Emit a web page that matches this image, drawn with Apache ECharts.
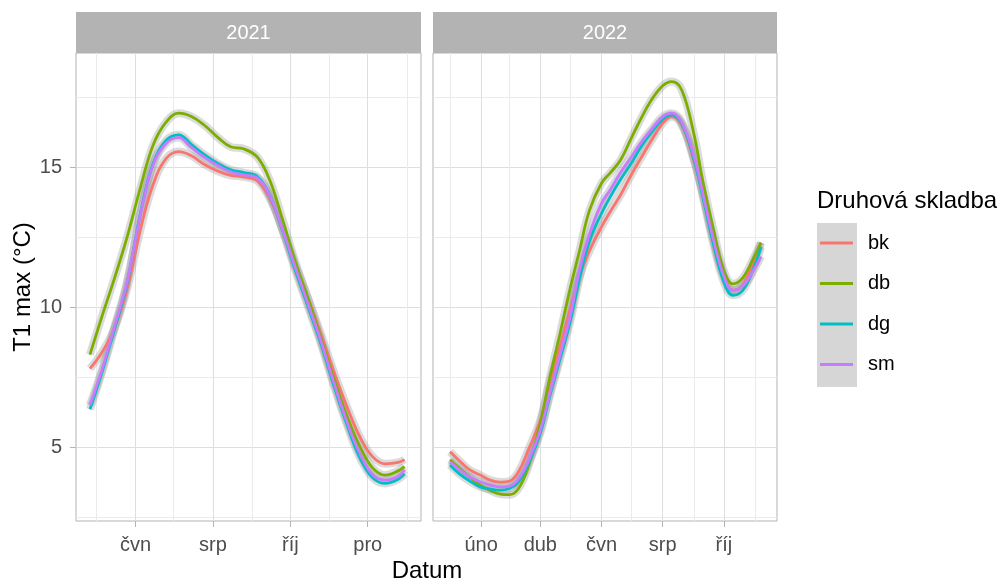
<!DOCTYPE html>
<html>
<head>
    <meta charset="utf-8">
    <title>T1 max</title>
    <script src="https://cdn.jsdelivr.net/npm/echarts@6/dist/echarts.min.js"></script>
    <style>
        html, body { margin: 0; background: #fff; }
        #chart { width: 997px; height: 581px; }
    </style>
</head>
<body>
    <div id="chart"></div>
    <script type="text/javascript">
        var panels = ['2021', '2022'];
        var groups = ['bk', 'db', 'dg', 'sm'];
        var colors = ['#F8766D', '#7CAE00', '#00BFC4', '#C77CFF'];

        var dates21 = ['2021-04-26', '2021-05-05', '2021-05-15', '2021-05-25', '2021-06-05', '2021-06-15',
            '2021-06-25', '2021-07-05', '2021-07-15', '2021-07-25', '2021-08-05', '2021-08-15', '2021-08-25',
            '2021-09-05', '2021-09-15', '2021-09-25', '2021-10-05', '2021-10-15', '2021-10-25', '2021-11-05',
            '2021-11-15', '2021-11-25', '2021-12-05', '2021-12-15', '2021-12-25', '2021-12-30'];
        var bk21 = [7.8, 8.35, 9.2, 10.6, 12.8, 14.4, 15.3, 15.55, 15.4, 15.1, 14.85, 14.7, 14.65,
            14.5, 13.85, 12.75, 11.5, 10.3, 9.05, 7.6, 6.4, 5.35, 4.65, 4.4, 4.45, 4.55];
        var db21 = [8.3, 9.6, 10.98, 12.45, 14.3, 15.8, 16.6, 16.92, 16.8, 16.5, 16.05, 15.72, 15.65,
            15.35, 14.5, 13.1, 11.6, 10.3, 8.9, 7.35, 6.05, 5.0, 4.25, 4.0, 4.15, 4.3];
        var dg21 = [6.35, 7.6, 9.15, 10.8, 13.4, 15.15, 15.95, 16.15, 15.8, 15.45, 15.12, 14.9, 14.8,
            14.65, 13.95, 12.7, 11.3, 10.0, 8.7, 7.1, 5.75, 4.6, 3.9, 3.7, 3.85, 4.05];
        var sm21 = [6.5, 7.7, 9.25, 10.85, 13.35, 15.1, 15.85, 16.05, 15.7, 15.35, 15.05, 14.82, 14.72,
            14.6, 13.95, 12.75, 11.4, 10.1, 8.8, 7.2, 5.85, 4.75, 4.0, 3.82, 3.95, 4.18];

        var dates22 = ['2022-01-01', '2022-01-10', '2022-01-20', '2022-01-31', '2022-02-10', '2022-02-20',
            '2022-03-01', '2022-03-10', '2022-03-20', '2022-04-01', '2022-04-10', '2022-04-20', '2022-05-01',
            '2022-05-10', '2022-05-20', '2022-06-01', '2022-06-10', '2022-06-20', '2022-07-01', '2022-07-10',
            '2022-07-20', '2022-08-01', '2022-08-10', '2022-08-20', '2022-09-01', '2022-09-10', '2022-09-20',
            '2022-10-01', '2022-10-10', '2022-10-20', '2022-11-01', '2022-11-07'];
        var bk22 = [4.83, 4.52, 4.2, 4.0, 3.82, 3.75, 3.78, 4.1, 4.9, 5.96, 7.25, 8.5, 9.95, 11.1, 12.0,
            12.86, 13.42, 14.0, 14.74, 15.3, 15.9, 16.56, 16.8, 16.5, 15.25, 14.06, 12.5, 11.1, 10.6, 10.8, 11.7, 12.3];
        var db22 = [4.55, 4.25, 3.95, 3.64, 3.45, 3.32, 3.3, 3.5, 4.3, 5.84, 7.4, 8.95, 10.7, 12.0, 13.45,
            14.42, 14.8, 15.25, 16.05, 16.7, 17.35, 17.9, 18.05, 17.75, 16.2, 14.5, 12.86, 11.3, 10.83, 11.05, 11.85, 12.3];
        var dg22 = [4.36, 4.05, 3.8, 3.58, 3.5, 3.46, 3.52, 3.75, 4.4, 5.5, 6.75, 8.05, 9.5, 11.0, 12.35,
            13.34, 13.95, 14.55, 15.15, 15.7, 16.2, 16.7, 16.86, 16.55, 15.3, 13.94, 12.33, 10.9, 10.42, 10.6, 11.5, 12.15];
        var sm22 = [4.47, 4.2, 3.95, 3.76, 3.65, 3.58, 3.6, 3.85, 4.5, 5.6, 6.85, 8.2, 9.7, 11.3, 12.6,
            13.7, 14.2, 14.8, 15.37, 15.85, 16.3, 16.8, 16.92, 16.6, 15.4, 14.06, 12.5, 11.1, 10.6, 10.75, 11.4, 11.8];

        // axis breaks
        var xRange21 = ['2021-04-15', '2022-01-12'];
        var xRange22 = ['2021-12-15', '2022-11-23'];
        var ticks21 = ['2021-06-01', '2021-08-01', '2021-10-01', '2021-12-01'];
        var labels21 = ['čvn', 'srp', 'říj', 'pro'];
        var minor21 = ['2021-05-01', '2021-07-01', '2021-09-01', '2021-11-01', '2022-01-01'];
        var ticks22 = ['2022-02-01', '2022-04-01', '2022-06-01', '2022-08-01', '2022-10-01'];
        var labels22 = ['úno', 'dub', 'čvn', 'srp', 'říj'];
        var minor22 = ['2022-01-01', '2022-03-01', '2022-05-01', '2022-07-01', '2022-09-01', '2022-11-01'];
        var yRange = [2.36, 19.07];
        var yTicks = [5, 10, 15];
        var yMinor = [2.5, 7.5, 12.5, 17.5];

        // ---- styles ----
        var FONT = '"Liberation Sans", Arial, sans-serif';
        var GRIDS = [
            { left: 76, top: 53, width: 345, height: 468 },
            { left: 433, top: 53, width: 344, height: 468 }
        ];

        // dates go on a plain value axis as day numbers (UTC)
        function day(s) { return Date.parse(s + 'T00:00:00Z') / 86400000; }

        function xMain(gi, range, ticks, labels) {
            var tv = ticks.map(day);
            return {
                type: 'value', gridIndex: gi, min: day(range[0]), max: day(range[1]),
                axisLine: { show: false },
                axisTick: { show: true, customValues: tv, length: 6, lineStyle: { color: '#B3B3B3' } },
                axisLabel: {
                    customValues: tv, color: '#4D4D4D', fontSize: 20, fontFamily: FONT, margin: 14,
                    formatter: function (v) {
                        var i = tv.indexOf(v);
                        return i < 0 ? '' : labels[i];
                    }
                },
                splitLine: { show: true, lineStyle: { color: '#DEDEDE', width: 1 } }
            };
        }
        function xMinor(gi, range, minor) {
            var tv = minor.map(day);
            return {
                type: 'value', gridIndex: gi, min: day(range[0]), max: day(range[1]), position: 'bottom',
                axisLine: { show: false },
                axisTick: { show: false, customValues: tv },
                axisLabel: { show: false, customValues: tv },
                splitLine: { show: true, lineStyle: { color: '#EBEBEB', width: 1 } }
            };
        }
        function yMain(gi, withLabels) {
            return {
                type: 'value', gridIndex: gi, min: yRange[0], max: yRange[1],
                name: withLabels ? 'T1 max (°C)' : '', nameLocation: 'middle', nameGap: 41, nameRotate: 90,
                nameTextStyle: { color: '#000', fontSize: 24, fontFamily: FONT },
                axisLine: { show: false },
                axisTick: { show: withLabels, customValues: yTicks, length: 6, lineStyle: { color: '#B3B3B3' } },
                axisLabel: { show: withLabels, customValues: yTicks, color: '#4D4D4D', fontSize: 20, fontFamily: FONT, margin: 14 },
                splitLine: { show: true, lineStyle: { color: '#DEDEDE', width: 1 } }
            };
        }
        function yMinorAxis(gi) {
            return {
                type: 'value', gridIndex: gi, min: yRange[0], max: yRange[1],
                axisLine: { show: false },
                axisTick: { show: false, customValues: yMinor },
                axisLabel: { show: false, customValues: yMinor },
                splitLine: { show: true, lineStyle: { color: '#EBEBEB', width: 1 } }
            };
        }

        // line + grey se band (band drawn as a wide translucent line under the curve)
        function makeSeries(dates, values, gi, k) {
            var data = dates.map(function (d, i) { return [day(d), values[i]]; });
            var axis = gi * 2;
            return [{
                name: groups[k] + '-se', type: 'line', xAxisIndex: axis, yAxisIndex: axis,
                data: data, smooth: 0.4, showSymbol: false, silent: true, z: 2,
                lineStyle: { color: 'rgba(153,153,153,0.35)', width: 8, cap: 'butt' }
            }, {
                name: groups[k], type: 'line', xAxisIndex: axis, yAxisIndex: axis,
                data: data, smooth: 0.4, showSymbol: false, z: 3,
                itemStyle: { color: colors[k] },
                lineStyle: { color: colors[k], width: 2.8 }
            }];
        }

        var values21 = [bk21, db21, dg21, sm21];
        var values22 = [bk22, db22, dg22, sm22];
        var bands = [], lines = [];
        groups.forEach(function (g, k) {
            var a = makeSeries(dates21, values21[k], 0, k);
            var b = makeSeries(dates22, values22[k], 1, k);
            bands.push(a[0], b[0]);
            lines.push(a[1], b[1]);
        });

        // facet strips, axis title, legend title and key background
        var graphics = [];
        panels.forEach(function (p, i) {
            graphics.push({
                type: 'rect', left: GRIDS[i].left, top: 12,
                shape: { width: GRIDS[i].width, height: 41 },
                style: { fill: '#B3B3B3' }
            });
            graphics.push({
                type: 'text', x: GRIDS[i].left + GRIDS[i].width / 2, y: 33,
                style: { text: p, fill: '#fff', font: '20px ' + FONT, textAlign: 'center', textVerticalAlign: 'middle' }
            });
        });
        graphics.push({
            type: 'text', x: 427, y: 571,
            style: { text: 'Datum', fill: '#000', font: '24px ' + FONT, textAlign: 'center', textVerticalAlign: 'middle' }
        });
        graphics.push({
            type: 'text', x: 817, y: 201,
            style: { text: 'Druhová skladba', fill: '#000', font: '24px ' + FONT, textAlign: 'left', textVerticalAlign: 'middle' }
        });
        graphics.push({
            type: 'rect', left: 817, top: 223, shape: { width: 40, height: 164 },
            style: { fill: '#D6D6D6' }
        });

        var chart = echarts.init(document.getElementById('chart'));
        chart.setOption({
            animation: false,
            backgroundColor: '#fff',
            grid: GRIDS.map(function (g) {
                return {
                    left: g.left, top: g.top, width: g.width, height: g.height,
                    show: true, borderColor: '#B3B3B3', borderWidth: 1,
                    containLabel: false, outerBoundsMode: 'none'
                };
            }),
            xAxis: [
                xMain(0, xRange21, ticks21, labels21), xMinor(0, xRange21, minor21),
                xMain(1, xRange22, ticks22, labels22), xMinor(1, xRange22, minor22)
            ],
            yAxis: [yMain(0, true), yMinorAxis(0), yMain(1, false), yMinorAxis(1)],
            legend: {
                data: groups, orient: 'vertical', left: 815, top: 226,
                icon: 'rect', itemWidth: 33, itemHeight: 3, itemGap: 16.5,
                textStyle: { fontSize: 20, fontFamily: FONT, color: '#000', lineHeight: 24, padding: [0, 0, 0, 10] },
                selectedMode: false
            },
            graphic: graphics,
            series: bands.concat(lines)
        });
    </script>
</body>
</html>
